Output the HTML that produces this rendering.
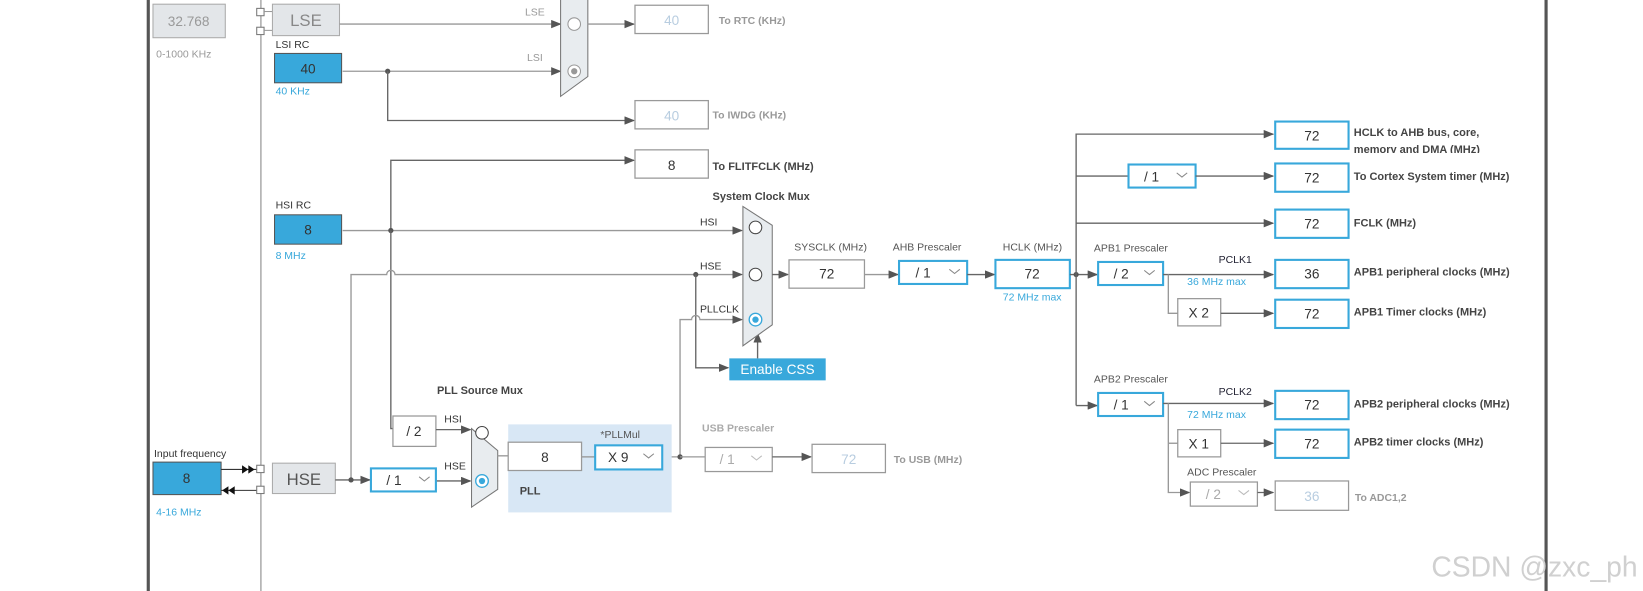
<!DOCTYPE html>
<html><head><meta charset="utf-8"><style>
html,body{margin:0;padding:0;background:#fff;overflow:hidden}
svg{display:block}
text{font-family:"Liberation Sans",sans-serif}
.l{fill:none;stroke:#666;stroke-width:1.3}
.g{fill:none;stroke:#999;stroke-width:1.3}
.box{fill:#fff;stroke:#999;stroke-width:1.2}
.bb{fill:#fff;stroke:#38a8db;stroke-width:2}
.blue{fill:#38a8db;stroke:#555;stroke-width:1}
.gray{fill:#e3e6e9;stroke:#aaa;stroke-width:1}
.n{font-size:13px;fill:#333;text-anchor:middle}
.nl{font-size:13px;fill:#b8cde0;text-anchor:middle}
.lab{font-size:10px;fill:#333}
.lb{font-size:10.5px;fill:#444;font-weight:bold}
.lg{font-size:10px;fill:#999;font-weight:bold}
.bl{font-size:10px;fill:#38a8db}
.mux{fill:#e8ecef;stroke:#777;stroke-width:1}
</style></head><body>
<svg width="1643" height="591" viewBox="0 0 1568 564" preserveAspectRatio="none" xmlns="http://www.w3.org/2000/svg">
<defs><marker id="a" markerWidth="10" markerHeight="8" refX="9" refY="4" orient="auto" markerUnits="userSpaceOnUse"><path d="M0,0 L10,4 L0,8z" fill="#555"/></marker></defs>
<rect x="140" y="0" width="3" height="564" fill="#555"/>
<rect x="1474" y="0" width="3" height="564" fill="#555"/>
<line x1="249" y1="0" x2="249" y2="564" stroke="#999" stroke-width="1.2"/>
<rect x="146" y="4" width="69" height="32" class="gray"/><text x="180" y="25" class="n" style="fill:#999">32.768</text>
<text x="149" y="55" style="font-size:10px;fill:#999">0-1000 KHz</text>
<rect x="245" y="8" width="7" height="7" fill="#fff" stroke="#777"/><rect x="245" y="26" width="7" height="7" fill="#fff" stroke="#777"/>
<line x1="252" y1="11" x2="260" y2="11" stroke="#999"/><line x1="252" y1="29" x2="260" y2="29" stroke="#999"/>
<rect x="260" y="4" width="64" height="30" class="gray"/><text x="292" y="25" style="font-size:16px;fill:#888;text-anchor:middle">LSE</text>
<text x="263" y="46" class="lab">LSI RC</text>
<rect x="262" y="51" width="64" height="28" class="blue"/><text x="294" y="70" class="n">40</text>
<text x="263" y="90" class="bl">40 KHz</text>
<path d="M324,23 H535" class="g" marker-end="url(#a)"/><text x="501" y="15" style="font-size:10px;fill:#999">LSE</text>
<path d="M327,68 H535" class="g" marker-end="url(#a)"/><text x="503" y="58" style="font-size:10px;fill:#999">LSI</text>
<circle cx="370" cy="68" r="2.5" fill="#555"/>
<path d="M370,68 V115 H605" class="l" marker-end="url(#a)"/>
<polygon points="535,-5 561,-5 561,73 535,92" class="mux"/>
<circle cx="548" cy="23" r="6" fill="#fff" stroke="#999"/><circle cx="548" cy="68" r="6" fill="#fff" stroke="#999"/><circle cx="548" cy="68" r="3" fill="#999"/>
<path d="M561,23 H605" class="g" marker-end="url(#a)"/>
<rect x="606" y="5" width="70" height="27" class="box"/><text x="641" y="24" class="nl">40</text>
<text x="686" y="23" class="lg">To RTC (KHz)</text>
<rect x="606" y="96" width="70" height="27" class="box"/><text x="641" y="115" class="nl">40</text>
<text x="680" y="113" class="lg">To IWDG (KHz)</text>
<path d="M373,220 V153 H605" class="l" marker-end="url(#a)"/>
<rect x="606" y="143" width="70" height="27" class="box"/><text x="641" y="162" class="n">8</text>
<text x="680" y="162" class="lb">To FLITFCLK (MHz)</text>
<text x="263" y="199" class="lab">HSI RC</text>
<rect x="262" y="205" width="64" height="28" class="blue"/><text x="294" y="224" class="n">8</text>
<text x="263" y="247" class="bl">8 MHz</text>
<path d="M327,220 H708" class="g" marker-end="url(#a)"/><circle cx="373" cy="220" r="2.5" fill="#555"/>
<text x="668" y="215" class="lab">HSI</text>
<path d="M373,220 V409 H375" class="l"/>
<path d="M335,458 V262 H369 a4,4 0 0 1 8,0 H708" class="g" marker-end="url(#a)"/>
<text x="668" y="257" class="lab">HSE</text>
<circle cx="664" cy="262" r="2.5" fill="#555"/>
<path d="M664,262 V351 H695" class="l" marker-end="url(#a)"/>
<path d="M632,436 H649 V305 H660 a4,4 0 0 1 8,0 H708" class="g" marker-end="url(#a)"/>
<text x="668" y="298" class="lab">PLLCLK</text>
<circle cx="649" cy="436" r="2.5" fill="#555"/>
<rect x="696" y="342" width="92" height="21" fill="#38a8db"/><text x="742" y="357" style="font-size:13px;fill:#fff;text-anchor:middle">Enable CSS</text>
<path d="M723,342 V318" class="l" marker-end="url(#a)"/>
<text x="680" y="191" class="lb">System Clock Mux</text>
<polygon points="709,197 737,215 737,310 709,330" class="mux"/>
<circle cx="721" cy="217" r="6" fill="#fff" stroke="#444"/><circle cx="721" cy="262" r="6" fill="#fff" stroke="#444"/>
<circle cx="721" cy="305" r="6" fill="#fff" stroke="#38a8db" stroke-width="1.3"/><circle cx="721" cy="305" r="3" fill="#38a8db"/>
<path d="M737,262 H752" class="l" marker-end="url(#a)"/>
<text x="758" y="239" style="font-size:10px;fill:#555">SYSCLK (MHz)</text>
<rect x="753" y="248" width="72" height="27" class="box"/><text x="789" y="266" class="n">72</text>
<path d="M825,262 H857" class="g" marker-end="url(#a)"/>
<text x="852" y="239" style="font-size:10px;fill:#555">AHB Prescaler</text>
<rect x="858" y="249" width="65" height="22" class="bb"/><text x="881" y="265" class="n">/ 1</text><path d="M906,257 l5,4 l5,-4" fill="none" stroke="#888"/>
<path d="M923,262 H949" class="l" marker-end="url(#a)"/>
<text x="957" y="239" style="font-size:10px;fill:#555">HCLK (MHz)</text>
<rect x="950" y="248" width="71" height="27" class="bb"/><text x="985" y="266" class="n">72</text>
<text x="957" y="287" class="bl">72 MHz max</text>
<text x="417" y="376" class="lb">PLL Source Mux</text>
<rect x="375" y="397" width="41" height="29" class="box"/><text x="395" y="416" class="n">/ 2</text>
<text x="424" y="403" class="lab">HSI</text>
<path d="M416,410 H449" class="l" marker-end="url(#a)"/>
<text x="424" y="448" class="lab">HSE</text>
<path d="M416,459 H449" class="l" marker-end="url(#a)"/>
<polygon points="450,409 475,430 475,467 450,484" class="mux"/>
<circle cx="460" cy="413" r="6" fill="#fff" stroke="#444"/>
<circle cx="460" cy="459" r="6" fill="#fff" stroke="#38a8db" stroke-width="1.3"/><circle cx="460" cy="459" r="3" fill="#38a8db"/>
<rect x="485" y="405" width="156" height="84" fill="#d8e7f5"/>
<path d="M475,435 H485" class="g"/>
<rect x="485" y="422" width="70" height="27" class="box"/><text x="520" y="441" class="n">8</text>
<path d="M555,436 H568" class="g"/>
<text x="573" y="418" style="font-size:10px;fill:#555">*PLLMul</text>
<rect x="568" y="425" width="64" height="23" class="bb"/><text x="590" y="441" class="n">X 9</text><path d="M614,433 l5,4 l5,-4" fill="none" stroke="#888"/>
<text x="496" y="472" class="lb">PLL</text>
<path d="M649,436 H673" class="g"/>
<text x="670" y="412" class="lg" style="fill:#aaa">USB Prescaler</text>
<rect x="673" y="427" width="64" height="23" class="box"/><text x="694" y="443" class="nl" style="fill:#aaa">/ 1</text><path d="M717,435 l5,4 l5,-4" fill="none" stroke="#bbb"/>
<path d="M737,436 H774" class="l" marker-end="url(#a)"/>
<rect x="775" y="424" width="70" height="27" class="box"/><text x="810" y="443" class="nl">72</text>
<text x="853" y="442" class="lg">To USB (MHz)</text>
<text x="147" y="436" class="lab">Input frequency</text>
<rect x="146" y="441" width="65" height="31" class="blue"/><text x="178" y="461" class="n">8</text>
<text x="149" y="492" class="bl">4-16 MHz</text>
<path d="M211,448 H245" stroke="#333" stroke-width="1"/><path d="M231,444 l6,4 l-6,4z M237,444 l6,4 l-6,4z" fill="#111"/>
<path d="M211,468 H245" stroke="#333" stroke-width="1"/><path d="M218,464 l-6,4 l6,4z M224,464 l-6,4 l6,4z" fill="#111"/>
<rect x="245" y="444" width="7" height="7" fill="#fff" stroke="#777"/><rect x="245" y="464" width="7" height="7" fill="#fff" stroke="#777"/>
<rect x="260" y="442" width="60" height="29" class="gray"/><text x="290" y="463" style="font-size:16px;fill:#555;text-anchor:middle">HSE</text>
<path d="M320,458 H353" class="l" marker-end="url(#a)"/><circle cx="335" cy="458" r="2.5" fill="#555"/>
<rect x="354" y="447" width="62" height="22" class="bb"/><text x="376" y="463" class="n">/ 1</text><path d="M400,455 l5,4 l5,-4" fill="none" stroke="#888"/>
<path d="M1021,262 H1047" class="l" marker-end="url(#a)"/><circle cx="1027" cy="262" r="2.5" fill="#555"/>
<path d="M1027,387 V128 H1215" class="l" marker-end="url(#a)"/>
<path d="M1027,387 H1047" class="l" marker-end="url(#a)"/>
<path d="M1027,168 H1077" class="l"/>
<rect x="1077" y="157" width="64" height="22" class="bb"/><text x="1099" y="173" class="n">/ 1</text><path d="M1123,165 l5,4 l5,-4" fill="none" stroke="#888"/>
<path d="M1141,168 H1215" class="l" marker-end="url(#a)"/>
<path d="M1027,213 H1215" class="l" marker-end="url(#a)"/>
<rect x="1217" y="116" width="70" height="26" class="bb"/><text x="1252" y="134" class="n">72</text>
<rect x="1217" y="156" width="70" height="27" class="bb"/><text x="1252" y="174" class="n">72</text>
<rect x="1217" y="200" width="70" height="27" class="bb"/><text x="1252" y="218" class="n">72</text>
<text x="1044" y="240" style="font-size:10px;fill:#555">APB1 Prescaler</text>
<rect x="1048" y="250" width="62" height="22" class="bb"/><text x="1070" y="266" class="n">/ 2</text><path d="M1092,258 l5,4 l5,-4" fill="none" stroke="#888"/>
<path d="M1110,262 H1215" class="l" marker-end="url(#a)"/>
<text x="1163" y="251" class="lab" style="fill:#223">PCLK1</text><text x="1133" y="272" class="bl">36 MHz max</text>
<rect x="1217" y="248" width="70" height="27" class="bb"/><text x="1252" y="266" class="n">36</text>
<path d="M1115,262 V299 H1124" class="g"/>
<rect x="1124" y="285" width="41" height="26" class="box"/><text x="1144" y="303" class="n">X 2</text>
<path d="M1165,299 H1215" class="l" marker-end="url(#a)"/>
<rect x="1217" y="286" width="70" height="27" class="bb"/><text x="1252" y="304" class="n">72</text>
<text x="1044" y="365" style="font-size:10px;fill:#555">APB2 Prescaler</text>
<rect x="1048" y="375" width="62" height="22" class="bb"/><text x="1070" y="391" class="n">/ 1</text><path d="M1092,383 l5,4 l5,-4" fill="none" stroke="#888"/>
<path d="M1110,385 H1215" class="l" marker-end="url(#a)"/>
<text x="1163" y="377" class="lab" style="fill:#223">PCLK2</text><text x="1133" y="399" class="bl">72 MHz max</text>
<rect x="1217" y="373" width="70" height="27" class="bb"/><text x="1252" y="391" class="n">72</text>
<path d="M1115,385 V470 H1135" class="g" marker-end="url(#a)"/><path d="M1115,423 H1124" class="g"/>
<rect x="1124" y="410" width="41" height="26" class="box"/><text x="1144" y="428" class="n">X 1</text>
<path d="M1165,423 H1215" class="l" marker-end="url(#a)"/>
<rect x="1217" y="410" width="70" height="27" class="bb"/><text x="1252" y="428" class="n">72</text>
<text x="1133" y="454" style="font-size:10px;fill:#555">ADC Prescaler</text>
<rect x="1136" y="460" width="64" height="23" class="box"/><text x="1158" y="476" class="nl" style="fill:#aaa">/ 2</text><path d="M1182,468 l5,4 l5,-4" fill="none" stroke="#bbb"/>
<path d="M1200,470 H1215" class="l" marker-end="url(#a)"/>
<rect x="1217" y="459" width="70" height="28" class="box"/><text x="1252" y="478" class="nl">36</text>
<text x="1293" y="478" class="lg">To ADC1,2</text>
<text x="1292" y="130" class="lb">HCLK to AHB bus, core,</text>
<svg x="1290" y="135" width="200" height="11" overflow="hidden"><text x="2" y="11" class="lb">memory and DMA (MHz)</text></svg>
<text x="1292" y="172" class="lb">To Cortex System timer (MHz)</text>
<text x="1292" y="216" class="lb">FCLK (MHz)</text>
<text x="1292" y="263" class="lb">APB1 peripheral clocks (MHz)</text>
<text x="1292" y="301" class="lb">APB1 Timer clocks (MHz)</text>
<text x="1292" y="389" class="lb">APB2 peripheral clocks (MHz)</text>
<text x="1292" y="425" class="lb">APB2 timer clocks (MHz)</text>
<text x="1366" y="550" style="font-size:27px;fill:#d0d0d0">CSDN @zxc_ph</text>
</svg>
</body></html>
